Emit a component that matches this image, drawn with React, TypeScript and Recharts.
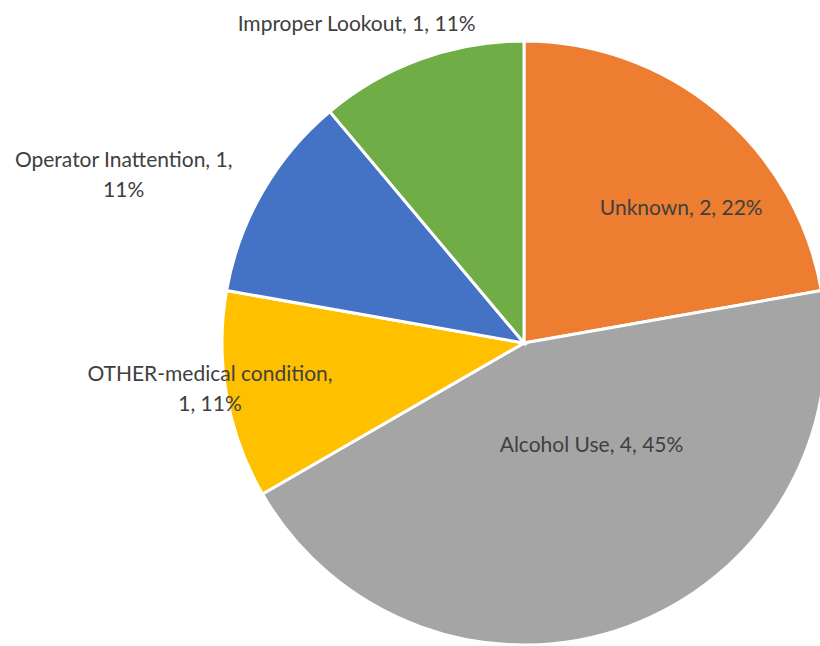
import { PieChart, Pie, Cell } from "recharts";

const causes = ["Unknown", "Alcohol Use", "OTHER-medical condition", "Operator Inattention", "Improper Lookout"];
const counts = [2, 4, 1, 1, 1];
const percentLabels = ["22%", "45%", "11%", "11%", "11%"];
const colors = ["#ED7D31", "#A5A5A5", "#FFC000", "#4472C4", "#70AD47"];

// label text lines per slice (Excel wrapped the long ones)
const labelLines = (i: number) => {
  const name = causes[i];
  const v = counts[i];
  const p = percentLabels[i];
  if (i === 2) return [`${name},`, `${v}, ${p}`];
  if (i === 3) return [`${name}, ${v},`, p];
  return [`${name}, ${v}, ${p}`];
};

// radius factor and angle shift (deg) for each label, relative to slice middle
const labelPlace = [
  { rf: 0.69, da: -9 },
  { rf: 0.4, da: 14 },
  { rf: 1.05, da: -2 },
  { rf: 1.44, da: 7 },
  { rf: 1.2, da: 7.5 },
];

const data = causes.map((c, i) => ({ name: c, value: counts[i] }));

const RAD = Math.PI / 180;

function renderLabel(props: any) {
  const { cx, cy, midAngle, outerRadius, index } = props;
  const pl = labelPlace[index];
  const a = (midAngle + pl.da) * RAD;
  const r = outerRadius * pl.rf;
  const x = cx + r * Math.cos(a);
  const y = cy - r * Math.sin(a);
  const lines = labelLines(index);
  const lh = 30;
  const y0 = y - ((lines.length - 1) * lh) / 2;
  return (
    <text
      key={"lbl" + index}
      x={x}
      y={y0}
      textAnchor="middle"
      dominantBaseline="central"
      fill="#404040"
      fontSize={21}
      fontFamily="Lato, 'Open Sans', sans-serif"
    >
      {lines.map((t, k) => (
        <tspan key={k} x={x} dy={k === 0 ? 0 : lh}>
          {t}
        </tspan>
      ))}
    </text>
  );
}

export default function App() {
  return (
    <div style={{ position: "absolute", left: 0, top: 0, width: 820, height: 646, background: "#fff" }}>
      <PieChart width={820} height={646}>
        <Pie
          data={data}
          dataKey="value"
          nameKey="name"
          cx={519}
          cy={338}
          outerRadius={302}
          startAngle={90}
          endAngle={-270}
          stroke="#ffffff"
          strokeWidth={3}
          label={renderLabel}
          labelLine={false}
          isAnimationActive={false}
        >
          {data.map((d, i) => (
            <Cell key={d.name} fill={colors[i]} />
          ))}
        </Pie>
      </PieChart>
    </div>
  );
}
